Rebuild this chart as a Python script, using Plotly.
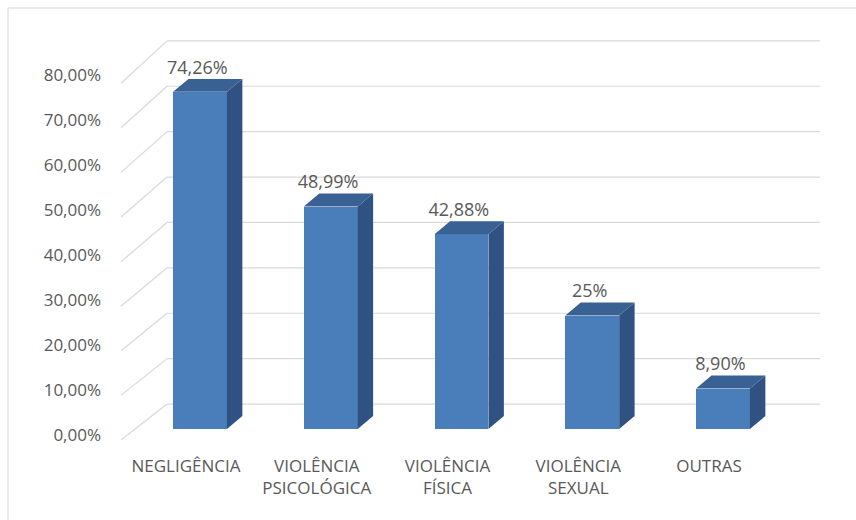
import plotly.graph_objects as go

# ---- data ----
categories = ["NEGLIGÊNCIA", "VIOLÊNCIA<br>PSICOLÓGICA", "VIOLÊNCIA<br>FÍSICA", "VIOLÊNCIA<br>SEXUAL", "OUTRAS"]
values = [74.26, 48.99, 42.88, 25.0, 8.90]
value_labels = ["74,26%", "48,99%", "42,88%", "25%", "8,90%"]
tick_values = [0, 10, 20, 30, 40, 50, 60, 70, 80]
tick_labels = ["0,00%", "10,00%", "20,00%", "30,00%", "40,00%", "50,00%", "60,00%", "70,00%", "80,00%"]

# ---- styling / 3D geometry (in axis units) ----
FRONT = "#4A7EBB"
SIDE = "#2F5283"
TOP = "#3A6193"
GRID = "#D9D9D9"
TEXT = "#595959"
FONT = "Open Sans"

bar_w = 0.412       # bar front width (x units)
depth_dx = 0.118    # bar depth, x units
depth_dy = 2.86     # bar depth, value units
wall_dy = 5.5       # back wall offset (value units)
wall_left = -0.252
wall_right = 4.742
front_left = -0.604

xs = list(range(len(categories)))

fig = go.Figure()

# front faces
fig.add_trace(go.Bar(x=xs, y=values, width=bar_w, marker=dict(color=FRONT, line=dict(width=0)),
                     hoverinfo="skip", showlegend=False))

# side and top faces
sx, sy = [], []
tx, ty = [], []
for x, v in zip(xs, values):
    r = x + bar_w / 2
    l = x - bar_w / 2
    sx += [r, r + depth_dx, r + depth_dx, r, r, None]
    sy += [0, depth_dy, v + depth_dy, v, 0, None]
    tx += [l, l + depth_dx, r + depth_dx, r, l, None]
    ty += [v, v + depth_dy, v + depth_dy, v, v, None]
fig.add_trace(go.Scatter(x=sx, y=sy, fill="toself", fillcolor=SIDE, mode="lines",
                         line=dict(width=0, color=SIDE), hoverinfo="skip", showlegend=False))
fig.add_trace(go.Scatter(x=tx, y=ty, fill="toself", fillcolor=TOP, mode="lines",
                         line=dict(width=0, color=TOP), hoverinfo="skip", showlegend=False))

# data labels
fig.add_trace(go.Scatter(x=[x - 0.02 for x in xs], y=[v + 5.0 for v in values], mode="text",
                         text=value_labels, textposition="middle center",
                         textfont=dict(family=FONT, size=18, color=TEXT),
                         cliponaxis=False, hoverinfo="skip", showlegend=False))

# invisible trace for tick-label axis
fig.add_trace(go.Scatter(x=[0], y=[0], yaxis="y2", mode="markers", marker=dict(opacity=0),
                         hoverinfo="skip", showlegend=False))

# gridlines (back wall + floor diagonals)
shapes = []
for v in tick_values:
    fv = (4.46 * v - 11) / 4.54
    bv = v + wall_dy
    shapes.append(dict(type="line", xref="x", yref="y", x0=front_left, y0=fv, x1=wall_left, y1=bv,
                       line=dict(color=GRID, width=1.2), layer="below"))
    shapes.append(dict(type="line", xref="x", yref="y", x0=wall_left, y0=bv, x1=wall_right, y1=bv,
                       line=dict(color=GRID, width=1.2), layer="below"))

# chart-area border (top and left)
W, H = 856, 520
ml, mr, mt, mb = 105, 20, 20, 70
pw, ph = W - ml - mr, H - mt - mb
def px2paper_x(p):
    return (p - ml) / pw
def py2paper_y(p):
    return (H - mb - p) / ph
shapes.append(dict(type="line", xref="paper", yref="paper",
                   x0=px2paper_x(8), y0=py2paper_y(8), x1=px2paper_x(856), y1=py2paper_y(8),
                   line=dict(color="#E3E3E3", width=1.5), layer="below"))
shapes.append(dict(type="line", xref="paper", yref="paper",
                   x0=px2paper_x(8), y0=py2paper_y(8), x1=px2paper_x(8), y1=py2paper_y(520),
                   line=dict(color="#E3E3E3", width=1.5), layer="below"))

x0r = (ml - 200) / 130.75
x1r = (W - mr - 200) / 130.75
y1r = (429 - mt) / 4.54
y0r = (429 - (H - mb)) / 4.54
y2_top = (435 - mt) / 4.5
y2_bot = (435 - (H - mb)) / 4.5

fig.update_layout(
    width=W, height=H,
    margin=dict(l=ml, r=mr, t=mt, b=mb),
    paper_bgcolor="white", plot_bgcolor="white",
    bargap=0,
    shapes=shapes,
    xaxis=dict(range=[x0r, x1r], tickmode="array", tickvals=xs, ticktext=categories,
               showgrid=False, zeroline=False, showline=False, ticks="",
               tickfont=dict(family=FONT, size=17, color=TEXT),
               ticklabelshift=-14, ticklabelstandoff=4, fixedrange=True),
    yaxis=dict(range=[y0r, y1r], showgrid=False, zeroline=False, showline=False,
               showticklabels=False, ticks="", fixedrange=True),
    yaxis2=dict(range=[y2_bot, y2_top], overlaying="y", side="left",
                tickmode="array", tickvals=tick_values, ticktext=tick_labels,
                showgrid=False, zeroline=False, showline=False, ticks="",
                tickfont=dict(family=FONT, size=17, color=TEXT),
                ticklabelstandoff=3, fixedrange=True),
    font=dict(family=FONT, color=TEXT),
)

fig.write_html("out.html", config={"displayModeBar": False},
               post_script="document.body.style.margin='0';")
